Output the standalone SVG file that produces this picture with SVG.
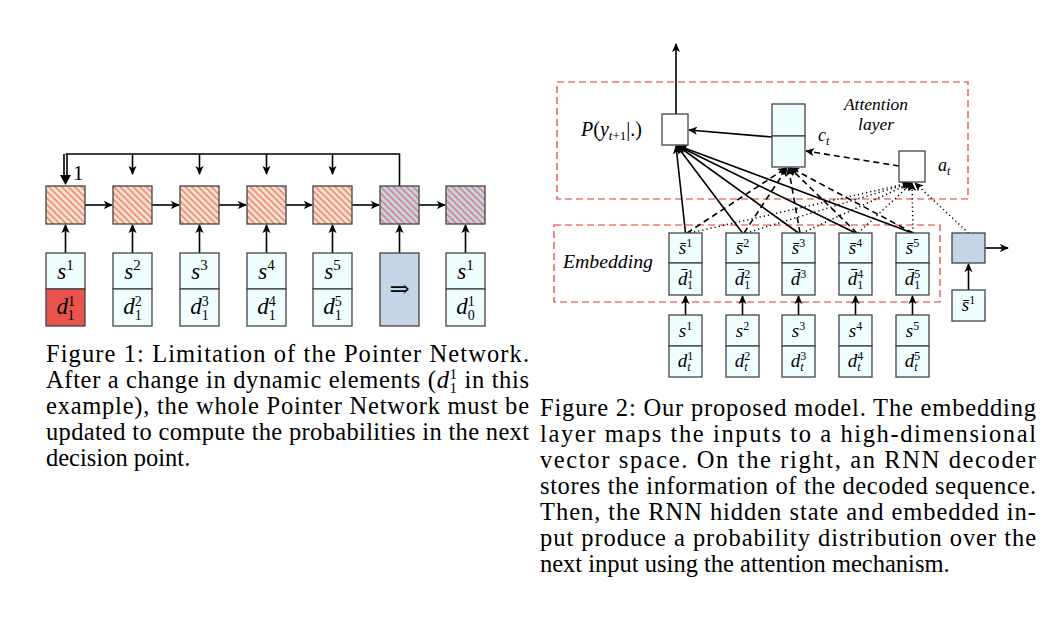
<svg xmlns="http://www.w3.org/2000/svg" width="1044" height="622" viewBox="0 0 1044 622">
<defs>
  <pattern id="hatch" patternUnits="userSpaceOnUse" width="8" height="4.6" patternTransform="rotate(45)">
    <line x1="0" y1="1" x2="8" y2="1" stroke="#e8352c" stroke-width="0.9"/>
  </pattern>
  <marker id="ah" viewBox="0 0 10 10" refX="9" refY="5" markerWidth="9" markerHeight="9" markerUnits="userSpaceOnUse" orient="auto">
    <path d="M0,0.5 L10,5 L0,9.5 L2.5,5 Z" fill="#000"/>
  </marker>
</defs>
<style>
  .bx{stroke:#444;stroke-width:1.3}
  .peach{fill:#f7e3cd}
  .blue{fill:#c5d4e6}
  .cyan{fill:#effefe}
  .white{fill:#fff}
  .red{fill:#e8534b}
  .ln{fill:none;stroke:#000;stroke-width:1.6}
  .arr{fill:none;stroke:#000;stroke-width:1.6;marker-end:url(#ah)}
  .dash{fill:none;stroke:#000;stroke-width:1.6;stroke-dasharray:6 4;marker-end:url(#ah)}
  .dot{fill:none;stroke:#000;stroke-width:1.5;stroke-dasharray:1.2 3;marker-end:url(#ah)}
  .reddash{fill:none;stroke:#e8352c;stroke-width:1.2;stroke-dasharray:7 4}
  .m{font-family:"Liberation Serif","DejaVu Serif",serif;fill:#000}
  .i{font-style:italic}
  .cap{font-family:"Liberation Serif","DejaVu Serif",serif;font-size:24.5px;fill:#000}
</style>

<!-- ===== Figure 1 ===== -->
<g id="fig1-connectors">
  <path class="ln" d="M65.5,154 H399.5 V186"/>
  <path class="ln" d="M64,154 V177 M67,154 V177"/>
  <polygon points="60,175 71,175 65.5,185" fill="#000"/>
  <path class="arr" d="M132.5,154 V174"/>
  <path class="arr" d="M199.5,154 V174"/>
  <path class="arr" d="M266.5,154 V174"/>
  <path class="arr" d="M332.5,154 V174"/>
  <path class="arr" d="M85,205 H112"/>
  <path class="arr" d="M152,205 H179"/>
  <path class="arr" d="M219,205 H246"/>
  <path class="arr" d="M286,205 H312"/>
  <path class="arr" d="M352,205 H379"/>
  <path class="arr" d="M419,205 H445"/>
  <path class="arr" d="M65.5,253 V225"/>
  <path class="arr" d="M132.5,253 V225"/>
  <path class="arr" d="M199.5,253 V225"/>
  <path class="arr" d="M266.5,253 V225"/>
  <path class="arr" d="M332.5,253 V225"/>
  <path class="arr" d="M399.5,253 V225"/>
  <path class="arr" d="M465.5,253 V225"/>
  <text class="m" x="73" y="180" font-size="21">1</text>
</g>

<g id="rnn1"><rect class="peach" x="46" y="186" width="39" height="38"/><rect x="46" y="186" width="39" height="38" fill="url(#hatch)" class="bx"/></g>
<g id="rnn2"><rect class="peach" x="113" y="186" width="39" height="38"/><rect x="113" y="186" width="39" height="38" fill="url(#hatch)" class="bx"/></g>
<g id="rnn3"><rect class="peach" x="180" y="186" width="39" height="38"/><rect x="180" y="186" width="39" height="38" fill="url(#hatch)" class="bx"/></g>
<g id="rnn4"><rect class="peach" x="247" y="186" width="39" height="38"/><rect x="247" y="186" width="39" height="38" fill="url(#hatch)" class="bx"/></g>
<g id="rnn5"><rect class="peach" x="313" y="186" width="39" height="38"/><rect x="313" y="186" width="39" height="38" fill="url(#hatch)" class="bx"/></g>
<g id="rnn6"><rect class="blue" x="380" y="186" width="39" height="38"/><rect x="380" y="186" width="39" height="38" fill="url(#hatch)" class="bx"/></g>
<g id="rnn7"><rect class="blue" x="446" y="186" width="39" height="38"/><rect x="446" y="186" width="39" height="38" fill="url(#hatch)" class="bx"/></g>

<g id="in1">
  <rect class="cyan bx" x="46" y="253" width="39" height="36"/>
  <rect class="red bx" x="46" y="289" width="39" height="37"/>
  <text class="m" x="65.5" y="279" font-size="23" text-anchor="middle"><tspan class="i">s</tspan><tspan dy="-9" font-size="15">1</tspan></text>
  <text class="m" x="65.5" y="314" font-size="23" text-anchor="middle"><tspan class="i">d</tspan><tspan dy="-8" font-size="14">1</tspan><tspan dx="-7" dy="14" font-size="14">1</tspan></text>
</g>
<g id="in2">
  <rect class="cyan bx" x="113" y="253" width="39" height="36"/>
  <rect class="cyan bx" x="113" y="289" width="39" height="37"/>
  <text class="m" x="132.5" y="279" font-size="23" text-anchor="middle"><tspan class="i">s</tspan><tspan dy="-9" font-size="15">2</tspan></text>
  <text class="m" x="132.5" y="314" font-size="23" text-anchor="middle"><tspan class="i">d</tspan><tspan dy="-8" font-size="14">2</tspan><tspan dx="-7" dy="14" font-size="14">1</tspan></text>
</g>
<g id="in3">
  <rect class="cyan bx" x="180" y="253" width="39" height="36"/>
  <rect class="cyan bx" x="180" y="289" width="39" height="37"/>
  <text class="m" x="199.5" y="279" font-size="23" text-anchor="middle"><tspan class="i">s</tspan><tspan dy="-9" font-size="15">3</tspan></text>
  <text class="m" x="199.5" y="314" font-size="23" text-anchor="middle"><tspan class="i">d</tspan><tspan dy="-8" font-size="14">3</tspan><tspan dx="-7" dy="14" font-size="14">1</tspan></text>
</g>
<g id="in4">
  <rect class="cyan bx" x="247" y="253" width="39" height="36"/>
  <rect class="cyan bx" x="247" y="289" width="39" height="37"/>
  <text class="m" x="266.5" y="279" font-size="23" text-anchor="middle"><tspan class="i">s</tspan><tspan dy="-9" font-size="15">4</tspan></text>
  <text class="m" x="266.5" y="314" font-size="23" text-anchor="middle"><tspan class="i">d</tspan><tspan dy="-8" font-size="14">4</tspan><tspan dx="-7" dy="14" font-size="14">1</tspan></text>
</g>
<g id="in5">
  <rect class="cyan bx" x="313" y="253" width="39" height="36"/>
  <rect class="cyan bx" x="313" y="289" width="39" height="37"/>
  <text class="m" x="332.5" y="279" font-size="23" text-anchor="middle"><tspan class="i">s</tspan><tspan dy="-9" font-size="15">5</tspan></text>
  <text class="m" x="332.5" y="314" font-size="23" text-anchor="middle"><tspan class="i">d</tspan><tspan dy="-8" font-size="14">5</tspan><tspan dx="-7" dy="14" font-size="14">1</tspan></text>
</g>
<g id="in6">
  <rect class="blue bx" x="380" y="253" width="39" height="73"/>
  <text class="m" x="399.5" y="297" font-size="24" text-anchor="middle">⇒</text>
</g>
<g id="in7">
  <rect class="cyan bx" x="446" y="253" width="39" height="36"/>
  <rect class="cyan bx" x="446" y="289" width="39" height="37"/>
  <text class="m" x="465.5" y="279" font-size="23" text-anchor="middle"><tspan class="i">s</tspan><tspan dy="-9" font-size="15">1</tspan></text>
  <text class="m" x="465.5" y="314" font-size="23" text-anchor="middle"><tspan class="i">d</tspan><tspan dy="-8" font-size="14">1</tspan><tspan dx="-7" dy="14" font-size="14">0</tspan></text>
</g>

<g id="caption1" class="cap">
  <text x="46" y="362" textLength="483" lengthAdjust="spacing">Figure 1: Limitation of the Pointer Network.</text>
  <text x="46" y="388" textLength="483" lengthAdjust="spacing">After a change in dynamic elements (<tspan class="i">d</tspan><tspan dy="-9" font-size="15">1</tspan><tspan dx="-7.5" dy="14" font-size="15">1</tspan><tspan dy="-5"> in this</tspan></text>
  <text x="46" y="414" textLength="483" lengthAdjust="spacing">example), the whole Pointer Network must be</text>
  <text x="46" y="440" textLength="483" lengthAdjust="spacing">updated to compute the probabilities in the next</text>
  <text x="46" y="466">decision point.</text>
</g>

<!-- ===== Figure 2 ===== -->
<g id="attention-layer">
  <rect class="reddash" x="557" y="82" width="411" height="117"/>
  <text class="m i" x="876" y="110" font-size="17.5" text-anchor="middle">Attention</text>
  <text class="m i" x="876" y="130" font-size="17.5" text-anchor="middle">layer</text>
</g>
<g id="embedding-layer">
  <rect class="reddash" x="554" y="225" width="386" height="77"/>
  <text class="m i" x="563" y="268" font-size="18" textLength="90" lengthAdjust="spacingAndGlyphs">Embedding</text>
</g>

<g id="connectors2">
  <path class="arr" d="M676,114 V44"/>
  <path class="arr" d="M772,137 L689,130"/>
  <path class="dash" d="M899,166 L806,151"/>
  <path class="arr" d="M685.5,233 L676,146"/>
  <path class="arr" d="M742.5,233 L677,146"/>
  <path class="arr" d="M798.5,233 L678,146"/>
  <path class="arr" d="M855.5,233 L678,146"/>
  <path class="arr" d="M912.5,233 L679,146"/>
  <path class="dash" d="M687,233 L786,168"/>
  <path class="dash" d="M744,233 L787,168"/>
  <path class="dash" d="M800,233 L788.5,168"/>
  <path class="dash" d="M857,233 L790,168"/>
  <path class="dash" d="M913,233 L791,168"/>
  <path class="dot" d="M690,233 L909,183"/>
  <path class="dot" d="M746,233 L910,183"/>
  <path class="dot" d="M802,233 L911,183"/>
  <path class="dot" d="M858,233 L912,183"/>
  <path class="dot" d="M913,233 L912,183"/>
  <path class="dot" d="M968.5,233 L915,183"/>
  <path class="arr" d="M685.5,315 V296"/>
  <path class="arr" d="M742.5,315 V296"/>
  <path class="arr" d="M798.5,315 V296"/>
  <path class="arr" d="M855.5,315 V296"/>
  <path class="arr" d="M912.5,315 V296"/>
  <path class="arr" d="M968.5,290 V264"/>
  <path class="arr" d="M985,248 H1008"/>
</g>

<g id="p-node">
  <rect class="white bx" x="662" y="114" width="26" height="31"/>
  <text class="m" x="581" y="136" font-size="20"><tspan class="i">P</tspan>(<tspan class="i">y</tspan><tspan dy="4" font-size="13" class="i">t</tspan><tspan font-size="13">+1</tspan><tspan dy="-4">|.)</tspan></text>
</g>
<g id="ct-node">
  <rect class="cyan bx" x="772" y="104" width="33" height="32"/>
  <rect class="cyan bx" x="772" y="136" width="33" height="31"/>
  <text class="m" x="818" y="141" font-size="18"><tspan class="i">c</tspan><tspan dy="4" font-size="12" class="i">t</tspan></text>
</g>
<g id="at-node">
  <rect class="white bx" x="899" y="151" width="26" height="31"/>
  <text class="m" x="938" y="171" font-size="18"><tspan class="i">a</tspan><tspan dy="4" font-size="12" class="i">t</tspan></text>
</g>

<g id="emb1">
  <rect class="cyan bx" x="669" y="233" width="33" height="30"/>
  <rect class="cyan bx" x="669" y="263" width="33" height="32"/>
  <text class="m" x="685.5" y="254" font-size="19" text-anchor="middle"><tspan class="i">s̄</tspan><tspan dy="-7" font-size="12">1</tspan></text>
  <text class="m" x="685.5" y="285" font-size="19" text-anchor="middle"><tspan class="i">d̄</tspan><tspan dy="-7" font-size="12">1</tspan><tspan dx="-6" dy="11" font-size="12">1</tspan></text>
</g>
<g id="emb2">
  <rect class="cyan bx" x="726" y="233" width="33" height="30"/>
  <rect class="cyan bx" x="726" y="263" width="33" height="32"/>
  <text class="m" x="742.5" y="254" font-size="19" text-anchor="middle"><tspan class="i">s̄</tspan><tspan dy="-7" font-size="12">2</tspan></text>
  <text class="m" x="742.5" y="285" font-size="19" text-anchor="middle"><tspan class="i">d̄</tspan><tspan dy="-7" font-size="12">2</tspan><tspan dx="-6" dy="11" font-size="12">1</tspan></text>
</g>
<g id="emb3">
  <rect class="cyan bx" x="782" y="233" width="33" height="30"/>
  <rect class="cyan bx" x="782" y="263" width="33" height="32"/>
  <text class="m" x="798.5" y="254" font-size="19" text-anchor="middle"><tspan class="i">s̄</tspan><tspan dy="-7" font-size="12">3</tspan></text>
  <text class="m" x="798.5" y="285" font-size="19" text-anchor="middle"><tspan class="i">d̄</tspan><tspan dy="-7" font-size="12">3</tspan></text>
</g>
<g id="emb4">
  <rect class="cyan bx" x="839" y="233" width="33" height="30"/>
  <rect class="cyan bx" x="839" y="263" width="33" height="32"/>
  <text class="m" x="855.5" y="254" font-size="19" text-anchor="middle"><tspan class="i">s̄</tspan><tspan dy="-7" font-size="12">4</tspan></text>
  <text class="m" x="855.5" y="285" font-size="19" text-anchor="middle"><tspan class="i">d̄</tspan><tspan dy="-7" font-size="12">4</tspan><tspan dx="-6" dy="11" font-size="12">1</tspan></text>
</g>
<g id="emb5">
  <rect class="cyan bx" x="896" y="233" width="33" height="30"/>
  <rect class="cyan bx" x="896" y="263" width="33" height="32"/>
  <text class="m" x="912.5" y="254" font-size="19" text-anchor="middle"><tspan class="i">s̄</tspan><tspan dy="-7" font-size="12">5</tspan></text>
  <text class="m" x="912.5" y="285" font-size="19" text-anchor="middle"><tspan class="i">d̄</tspan><tspan dy="-7" font-size="12">5</tspan><tspan dx="-6" dy="11" font-size="12">1</tspan></text>
</g>

<g id="decoder">
  <rect class="blue bx" x="952" y="233" width="33" height="30"/>
</g>
<g id="dec-input">
  <rect class="cyan bx" x="952" y="290" width="33" height="31"/>
  <text class="m" x="968.5" y="311" font-size="19" text-anchor="middle"><tspan class="i">s̄</tspan><tspan dy="-7" font-size="12">1</tspan></text>
</g>

<g id="x1">
  <rect class="cyan bx" x="669" y="315" width="33" height="31"/>
  <rect class="cyan bx" x="669" y="346" width="33" height="31"/>
  <text class="m" x="685.5" y="337" font-size="19" text-anchor="middle"><tspan class="i">s</tspan><tspan dy="-7" font-size="12">1</tspan></text>
  <text class="m" x="685.5" y="367" font-size="19" text-anchor="middle"><tspan class="i">d</tspan><tspan dy="-7" font-size="12">1</tspan><tspan dx="-6" dy="11" font-size="12" class="i">t</tspan></text>
</g>
<g id="x2">
  <rect class="cyan bx" x="726" y="315" width="33" height="31"/>
  <rect class="cyan bx" x="726" y="346" width="33" height="31"/>
  <text class="m" x="742.5" y="337" font-size="19" text-anchor="middle"><tspan class="i">s</tspan><tspan dy="-7" font-size="12">2</tspan></text>
  <text class="m" x="742.5" y="367" font-size="19" text-anchor="middle"><tspan class="i">d</tspan><tspan dy="-7" font-size="12">2</tspan><tspan dx="-6" dy="11" font-size="12" class="i">t</tspan></text>
</g>
<g id="x3">
  <rect class="cyan bx" x="782" y="315" width="33" height="31"/>
  <rect class="cyan bx" x="782" y="346" width="33" height="31"/>
  <text class="m" x="798.5" y="337" font-size="19" text-anchor="middle"><tspan class="i">s</tspan><tspan dy="-7" font-size="12">3</tspan></text>
  <text class="m" x="798.5" y="367" font-size="19" text-anchor="middle"><tspan class="i">d</tspan><tspan dy="-7" font-size="12">3</tspan><tspan dx="-6" dy="11" font-size="12" class="i">t</tspan></text>
</g>
<g id="x4">
  <rect class="cyan bx" x="839" y="315" width="33" height="31"/>
  <rect class="cyan bx" x="839" y="346" width="33" height="31"/>
  <text class="m" x="855.5" y="337" font-size="19" text-anchor="middle"><tspan class="i">s</tspan><tspan dy="-7" font-size="12">4</tspan></text>
  <text class="m" x="855.5" y="367" font-size="19" text-anchor="middle"><tspan class="i">d</tspan><tspan dy="-7" font-size="12">4</tspan><tspan dx="-6" dy="11" font-size="12" class="i">t</tspan></text>
</g>
<g id="x5">
  <rect class="cyan bx" x="896" y="315" width="33" height="31"/>
  <rect class="cyan bx" x="896" y="346" width="33" height="31"/>
  <text class="m" x="912.5" y="337" font-size="19" text-anchor="middle"><tspan class="i">s</tspan><tspan dy="-7" font-size="12">5</tspan></text>
  <text class="m" x="912.5" y="367" font-size="19" text-anchor="middle"><tspan class="i">d</tspan><tspan dy="-7" font-size="12">5</tspan><tspan dx="-6" dy="11" font-size="12" class="i">t</tspan></text>
</g>

<g id="caption2" class="cap">
  <text x="540" y="416" textLength="496" lengthAdjust="spacing">Figure 2: Our proposed model. The embedding</text>
  <text x="540" y="442" textLength="496" lengthAdjust="spacing">layer maps the inputs to a high-dimensional</text>
  <text x="540" y="468" textLength="496" lengthAdjust="spacing">vector space. On the right, an RNN decoder</text>
  <text x="540" y="494" textLength="496" lengthAdjust="spacing">stores the information of the decoded sequence.</text>
  <text x="540" y="520" textLength="496" lengthAdjust="spacing">Then, the RNN hidden state and embedded in-</text>
  <text x="540" y="546" textLength="496" lengthAdjust="spacing">put produce a probability distribution over the</text>
  <text x="540" y="572">next input using the attention mechanism.</text>
</g>
</svg>
